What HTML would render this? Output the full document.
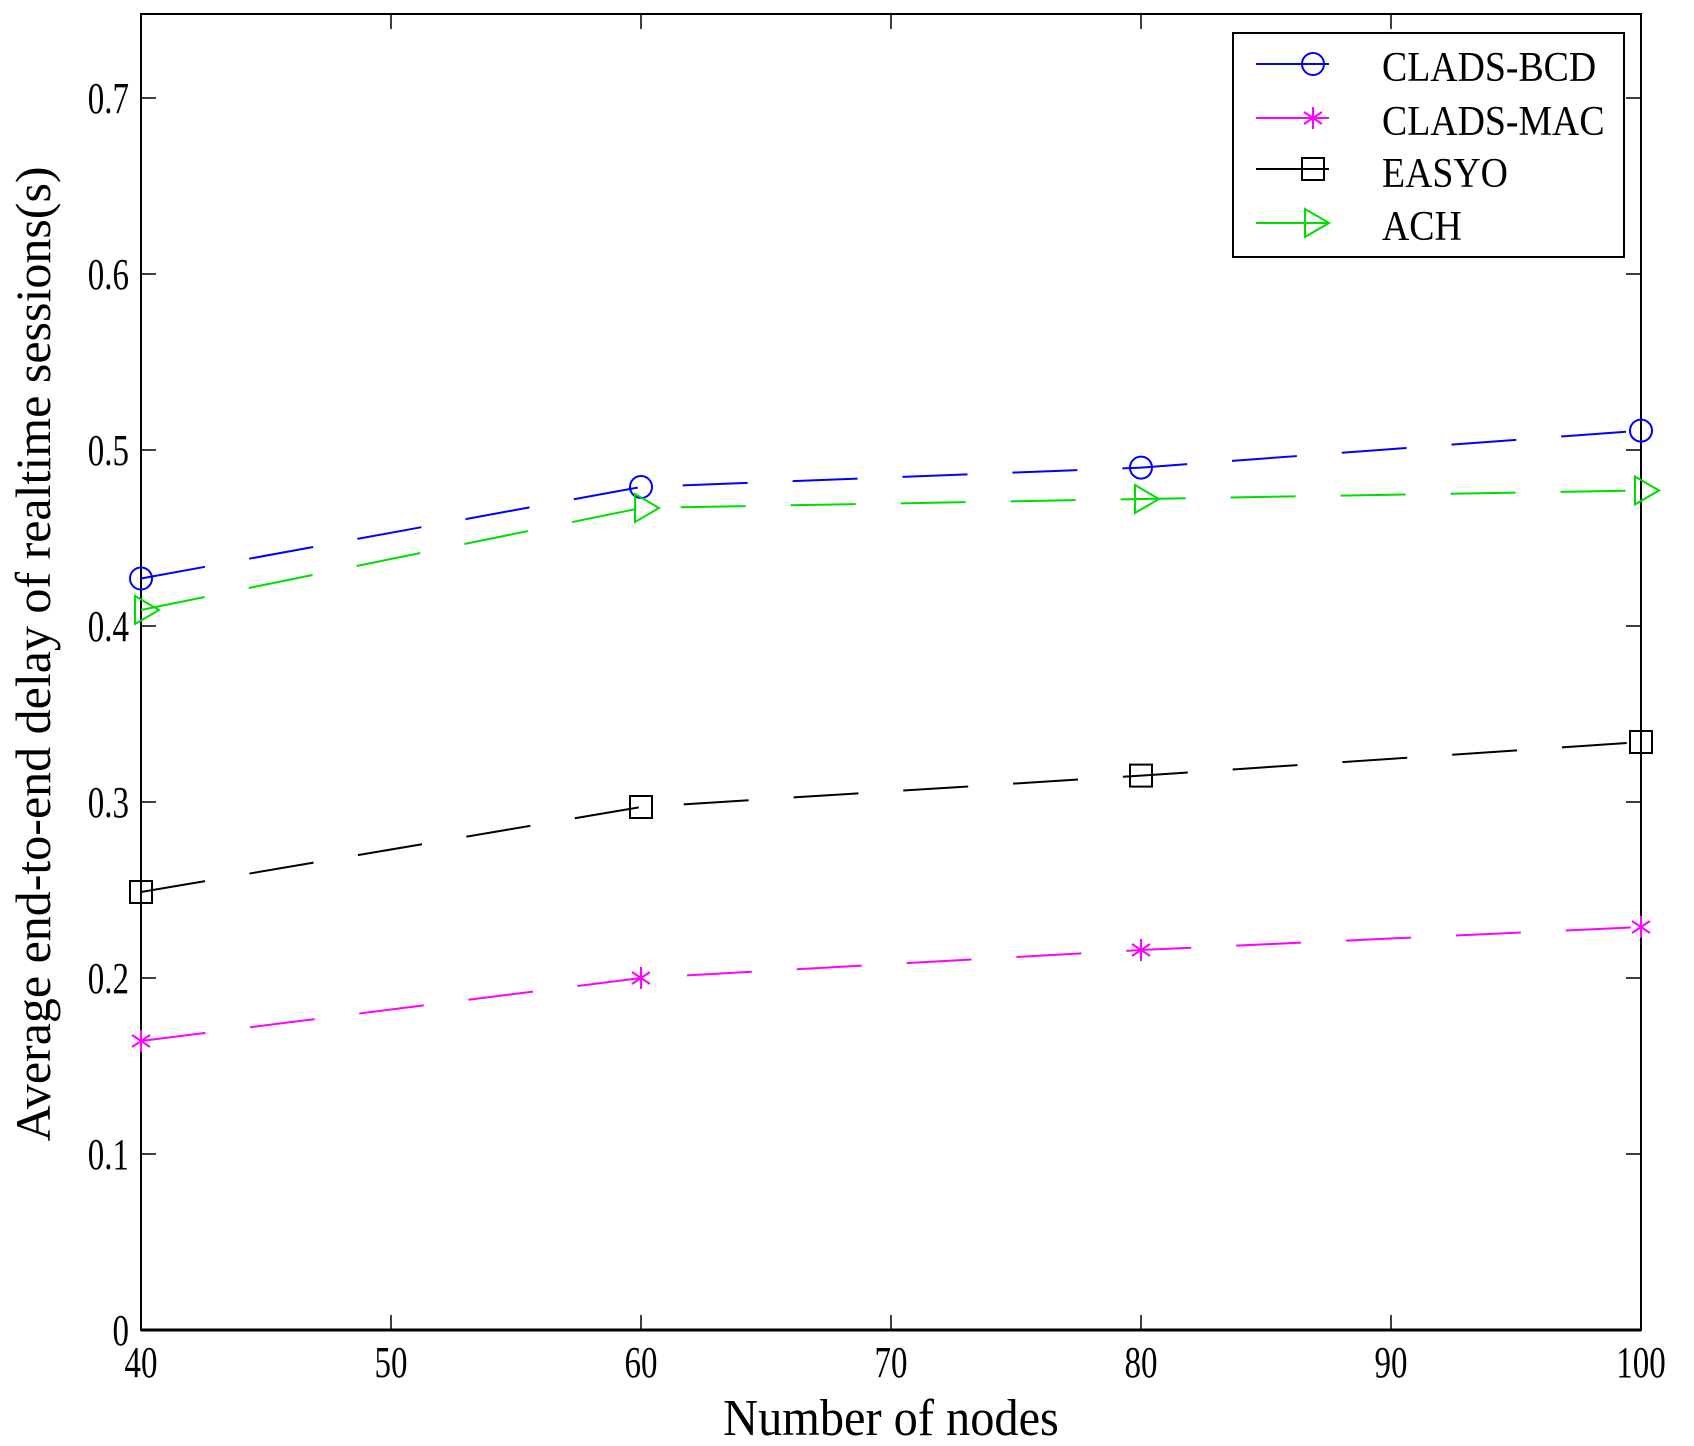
<!DOCTYPE html>
<html><head><meta charset="utf-8"><style>
html,body{margin:0;padding:0;background:#fff;}
svg{display:block;}
text{font-family:"Liberation Serif",serif;fill:#000;}
</style></head><body>
<svg width="1694" height="1446" viewBox="0 0 1694 1446" xmlns="http://www.w3.org/2000/svg">
<rect width="1694" height="1446" fill="#fff"/>
<rect x="141" y="14" width="1500" height="1316" fill="none" stroke="#000" stroke-width="2"/>
<line x1="141" y1="1330" x2="1641" y2="1330" stroke="#000" stroke-width="3"/>
<g stroke="#000" stroke-width="1.5">
<line x1="391" y1="1330" x2="391" y2="1315"/><line x1="391" y1="14" x2="391" y2="29"/>
<line x1="641" y1="1330" x2="641" y2="1315"/><line x1="641" y1="14" x2="641" y2="29"/>
<line x1="891" y1="1330" x2="891" y2="1315"/><line x1="891" y1="14" x2="891" y2="29"/>
<line x1="1141" y1="1330" x2="1141" y2="1315"/><line x1="1141" y1="14" x2="1141" y2="29"/>
<line x1="1391" y1="1330" x2="1391" y2="1315"/><line x1="1391" y1="14" x2="1391" y2="29"/>
<line x1="141" y1="1154" x2="156" y2="1154"/><line x1="1641" y1="1154" x2="1626" y2="1154"/>
<line x1="141" y1="978" x2="156" y2="978"/><line x1="1641" y1="978" x2="1626" y2="978"/>
<line x1="141" y1="802" x2="156" y2="802"/><line x1="1641" y1="802" x2="1626" y2="802"/>
<line x1="141" y1="626" x2="156" y2="626"/><line x1="1641" y1="626" x2="1626" y2="626"/>
<line x1="141" y1="450" x2="156" y2="450"/><line x1="1641" y1="450" x2="1626" y2="450"/>
<line x1="141" y1="274" x2="156" y2="274"/><line x1="1641" y1="274" x2="1626" y2="274"/>
<line x1="141" y1="98" x2="156" y2="98"/><line x1="1641" y1="98" x2="1626" y2="98"/>
</g>
<g font-size="44" text-anchor="middle">
<text transform="translate(141,1377) scale(0.75,1)">40</text>
<text transform="translate(391,1377) scale(0.75,1)">50</text>
<text transform="translate(641,1377) scale(0.75,1)">60</text>
<text transform="translate(891,1377) scale(0.75,1)">70</text>
<text transform="translate(1141,1377) scale(0.75,1)">80</text>
<text transform="translate(1391,1377) scale(0.75,1)">90</text>
<text transform="translate(1641,1377) scale(0.75,1)">100</text>
</g>
<g font-size="44" text-anchor="end">
<text transform="translate(129,1345) scale(0.75,1)">0</text>
<text transform="translate(129,1169) scale(0.75,1)">0.1</text>
<text transform="translate(129,993) scale(0.75,1)">0.2</text>
<text transform="translate(129,817) scale(0.75,1)">0.3</text>
<text transform="translate(129,641) scale(0.75,1)">0.4</text>
<text transform="translate(129,465) scale(0.75,1)">0.5</text>
<text transform="translate(129,289) scale(0.75,1)">0.6</text>
<text transform="translate(129,113) scale(0.75,1)">0.7</text>
</g>
<text transform="translate(891,1435) scale(0.93,1)" font-size="52" text-anchor="middle">Number of nodes</text>
<text transform="translate(50,654) rotate(-90)" font-size="50" text-anchor="middle">Average end-to-end delay of realtime sessions(s)</text>
<g fill="none" stroke-width="2">
<polyline stroke="#00f" stroke-dasharray="65 45" points="141,578.5 641,487 1141,467.6 1641,430.6"/>
<polyline stroke="#f0f" stroke-dasharray="65 45" points="141,1041 641,978 1141,950 1641,927"/>
<polyline stroke="#000" stroke-dasharray="65 45" points="141,892 641,807 1141,775.6 1641,742"/>
<polyline stroke="#0d0" stroke-dasharray="65 45" points="141,610 641,508 1141,499 1641,490.5"/>
</g>
<g fill="none" stroke="#00f" stroke-width="2">
<ellipse cx="141" cy="578.5" rx="11" ry="11"/><ellipse cx="641" cy="487" rx="11" ry="11"/>
<ellipse cx="1141" cy="467.6" rx="11" ry="11"/><ellipse cx="1641" cy="430.6" rx="11" ry="11"/>
</g>
<g stroke="#f0f" stroke-width="2">
<path d="M141,1030v22M132,1035l18,12M132,1047l18,-12M641,967v22M632,972l18,12M632,984l18,-12M1141,939v22M1132,944l18,12M1132,956l18,-12M1641,916v22M1632,921l18,12M1632,933l18,-12"/>
</g>
<g fill="none" stroke="#000" stroke-width="2">
<rect x="130" y="881" width="22" height="22"/><rect x="630" y="796" width="22" height="22"/>
<rect x="1130" y="764.6" width="22" height="22"/><rect x="1630" y="731" width="22" height="22"/>
</g>
<g fill="none" stroke="#0d0" stroke-width="2">
<path d="M135,596L159,610L135,624Z"/><path d="M635,494L659,508L635,522Z"/>
<path d="M1135,485L1159,499L1135,513Z"/><path d="M1635,476.5L1659,490.5L1635,504.5Z"/>
</g>
<rect x="1233" y="33" width="391" height="224" fill="#fff" stroke="#000" stroke-width="2"/>
<line x1="1256" y1="64" x2="1329" y2="64" stroke="#00f" stroke-width="2"/>
<circle cx="1313" cy="64" r="11" fill="none" stroke="#00f" stroke-width="2"/>
<line x1="1256" y1="118" x2="1329" y2="118" stroke="#f0f" stroke-width="2"/>
<path d="M1313,107v22M1304,112l18,12M1304,124l18,-12" stroke="#f0f" stroke-width="2"/>
<line x1="1256" y1="169" x2="1329" y2="169" stroke="#000" stroke-width="2"/>
<rect x="1302" y="158" width="22" height="22" fill="none" stroke="#000" stroke-width="2"/>
<line x1="1256" y1="223" x2="1329" y2="223" stroke="#0d0" stroke-width="2"/>
<path d="M1305,209L1329,223L1305,237Z" fill="none" stroke="#0d0" stroke-width="2"/>
<g font-size="42">
<text transform="translate(1382,81) scale(0.9,1)">CLADS-BCD</text>
<text transform="translate(1382,135) scale(0.9,1)">CLADS-MAC</text>
<text transform="translate(1382,187) scale(0.9,1)">EASYO</text>
<text transform="translate(1382,240) scale(0.9,1)">ACH</text>
</g>
</svg>
</body></html>
